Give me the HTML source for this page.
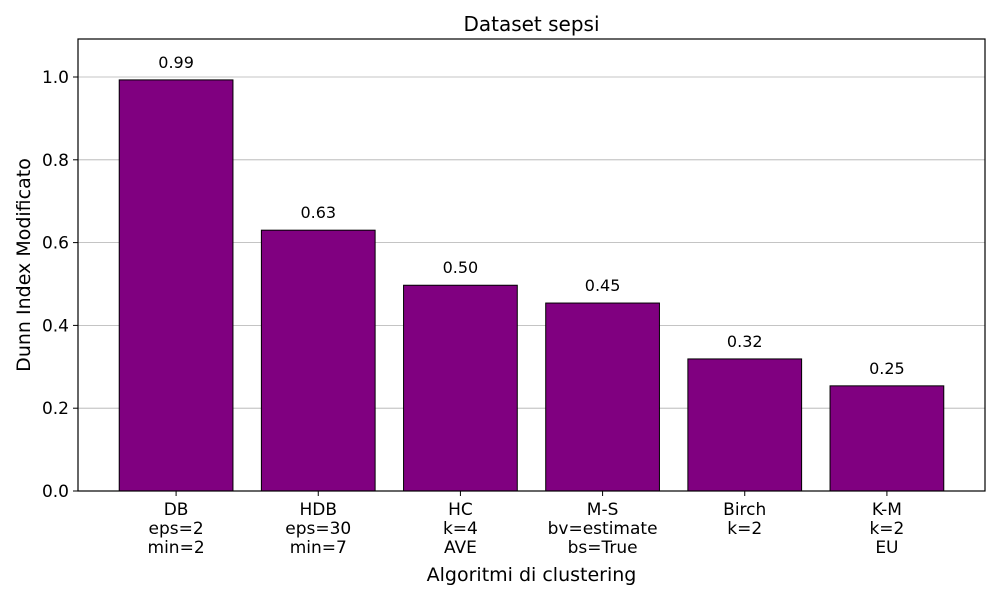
<!DOCTYPE html>
<html><head><meta charset="utf-8"><style>
body{margin:0;background:#fff;font-family:"Liberation Sans","DejaVu Sans",sans-serif}
svg text{font-family:"DejaVu Sans","Liberation Sans",sans-serif}
</style></head><body>
<svg id="chart" width="1000" height="600" xmlns="http://www.w3.org/2000/svg"></svg>
<script>
const categories = [["DB","eps=2","min=2"],["HDB","eps=30","min=7"],["HC","k=4","AVE"],["M-S","bv=estimate","bs=True"],["Birch","k=2"],["K-M","k=2","EU"]];
const values = [0.993, 0.630, 0.497, 0.454, 0.319, 0.254];
const yTicks = [0.0, 0.2, 0.4, 0.6, 0.8, 1.0];

const L=78,R=985,T=39,B=491;
const xmin=-0.69,xmax=5.69,ymin=0,ymax=1.0918;
const sx=v=>L+(v-xmin)/(xmax-xmin)*(R-L);
const sy=v=>B-(v-ymin)/(ymax-ymin)*(B-T);
const svg=document.getElementById('chart');
const NS='http://www.w3.org/2000/svg';
function mk(tag,attrs,parent){const e=document.createElementNS(NS,tag);for(const k in attrs)e.setAttribute(k,attrs[k]);(parent||svg).appendChild(e);return e;}

yTicks.forEach(t=>{
  const g=mk('line',{x1:L,x2:R,y1:sy(t),y2:sy(t),stroke:'#b0b0b0','stroke-width':0.8});
  
  
});
const bw=0.8*(sx(1)-sx(0));
values.forEach((v,i)=>{
  const r=mk('rect',{x:sx(i)-bw/2,y:sy(v),width:bw,height:sy(0)-sy(v),fill:'#800080',stroke:'#000','stroke-width':1});
  
  
  const t=mk('text',{x:sx(i),y:sy(v)-12,'text-anchor':'middle','font-size':16});
  t.textContent=v.toFixed(2);
  
  
});
const f=mk('rect',{x:L,y:T,width:R-L,height:B-T,fill:'none',stroke:'#000','stroke-width':1.2});


yTicks.forEach(t=>{
  mk('line',{x1:L-5,x2:L,y1:sy(t),y2:sy(t),stroke:'#000'});
  const tx=mk('text',{x:L-9,y:sy(t)+6,'text-anchor':'end','font-size':17});
  tx.textContent=t.toFixed(1);
  
  
});
categories.forEach((c,i)=>{
  mk('line',{x1:sx(i),x2:sx(i),y1:B,y2:B+5,stroke:'#000'});
  const tx=mk('text',{'text-anchor':'middle','font-size':17});
  
  
  c.forEach((line,j)=>{
    const s=mk('tspan',{x:sx(i),y:B+24+j*19},tx);
    s.textContent=line;
  });
});
const title=mk('text',{x:(L+R)/2,y:31,'text-anchor':'middle','font-size':20});
title.textContent='Dataset sepsi';


const xt=mk('text',{x:(L+R)/2,y:581,'text-anchor':'middle','font-size':19});
xt.textContent='Algoritmi di clustering';


const yt=mk('text',{x:0,y:0,'text-anchor':'middle','font-size':19,transform:`translate(30,${(T+B)/2}) rotate(-90)`});
yt.textContent='Dunn Index Modificato';


</script>
</body></html>
